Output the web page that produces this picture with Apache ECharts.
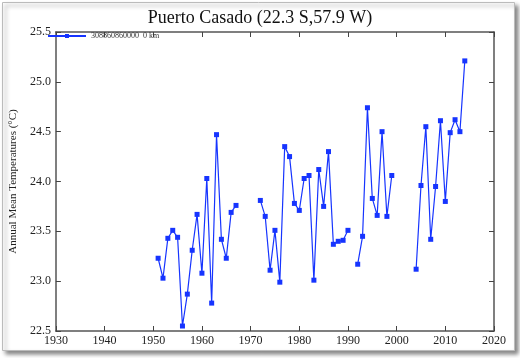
<!DOCTYPE html>
<html>
<head>
<meta charset="utf-8">
<script src="https://cdn.jsdelivr.net/npm/echarts@6/dist/echarts.min.js"></script>
<style>html,body{margin:0;padding:0;background:#fff;}#c{width:520px;height:358px;}</style>
</head>
<body>
<div id="c"></div>
<script>
var years = [1951,1952,1953,1954,1955,1956,1957,1958,1959,1960,1961,1962,1963,1964,1965,1966,1967,1968,
  1972,1973,1974,1975,1976,1977,1978,1979,1980,1981,1982,1983,1984,1985,1986,1987,1988,1989,1990,1991,
  1992,1993,1994,1995,1996,1997,1998,1999,2000,
  2004,2005,2006,2007,2008,2009,2010,2011,2012,2013,2014];
var temps = [23.23,23.03,23.43,23.51,23.44,22.55,22.87,23.31,23.67,23.08,24.03,22.78,24.47,23.42,23.23,23.69,23.76,null,
  23.81,23.65,23.11,23.51,22.99,24.35,24.25,23.78,23.71,24.03,24.06,23.01,24.12,23.75,24.30,23.37,23.40,23.41,23.51,null,
  23.17,23.45,24.74,23.83,23.66,24.50,23.65,24.06,null,
  23.12,23.96,24.55,23.42,23.95,24.61,23.80,24.49,24.62,24.50,25.21];
var xTicks = [1930,1940,1950,1960,1970,1980,1990,2000,2010,2020];
var yTicks = [22.5,23.0,23.5,24.0,24.5,25.0,25.5];
var titleText = 'Puerto Casado (22.3 S,57.9 W)';
var yName = 'Annual Mean Temperatures (\u00B0C)';
var seriesName = '308860860000  0 km';

var data = years.map(function(y,i){ return [y, temps[i]]; });
var serif = '"Liberation Serif","DejaVu Serif",serif';
var axisLine = {show:true, lineStyle:{color:'#555', width:1.5}};
var tick = {show:true, inside:true, length:5, lineStyle:{color:'#444', width:1}};

var chart = echarts.init(document.getElementById('c'), null, {renderer:'canvas'});
chart.setOption({
  animation:false,
  backgroundColor:'#fff',
  graphic:[{type:'rect', z:-10, shape:{x:2.5,y:2.5,width:512,height:348},
    style:{fill:'#fff', stroke:'#bbb', lineWidth:1, shadowColor:'rgba(0,0,0,0.45)', shadowBlur:4, shadowOffsetX:3, shadowOffsetY:3}}],
  title:{text:titleText, left:'center', top:4, textStyle:{fontFamily:serif, fontSize:18, fontWeight:'normal', color:'#111'}},
  legend:{left:47, top:32, padding:0, itemWidth:38, itemHeight:5, itemGap:4,
    textStyle:{fontFamily:serif, fontSize:8, color:'#333'}, data:[seriesName]},
  grid:{left:45, right:26, top:32, bottom:27},
  xAxis:[{type:'value', min:1930, max:2020, interval:10, axisLine:axisLine, axisTick:tick, splitLine:{show:false},
      axisLabel:{fontFamily:serif, fontSize:12, color:'#222', margin:4,
        formatter:function(v){return xTicks.indexOf(v)>=0?String(v):'';}}},
    {type:'value', position:'top', min:1930, max:2020, interval:10, axisLine:axisLine, axisTick:tick, axisLabel:{show:false}, splitLine:{show:false}}],
  yAxis:[{type:'value', min:22.5, max:25.5, interval:0.5, axisLine:axisLine, axisTick:tick, splitLine:{show:false},
      name:yName, nameLocation:'middle', nameGap:30, nameTextStyle:{fontFamily:serif, fontSize:11, color:'#222'},
      axisLabel:{fontFamily:serif, fontSize:12, color:'#222', margin:5,
        formatter:function(v){var s=v.toFixed(1); return yTicks.indexOf(+s)>=0?s:'';}}},
    {type:'value', position:'right', min:22.5, max:25.5, interval:0.5, axisLine:axisLine, axisTick:tick, axisLabel:{show:false}, splitLine:{show:false}}],
  series:[{name:seriesName, type:'line', data:data, connectNulls:false,
    symbol:'rect', symbolSize:5, showSymbol:true,
    itemStyle:{color:'#1634ff'}, lineStyle:{color:'#1634ff', width:1.2}}]
});
</script>
</body>
</html>
